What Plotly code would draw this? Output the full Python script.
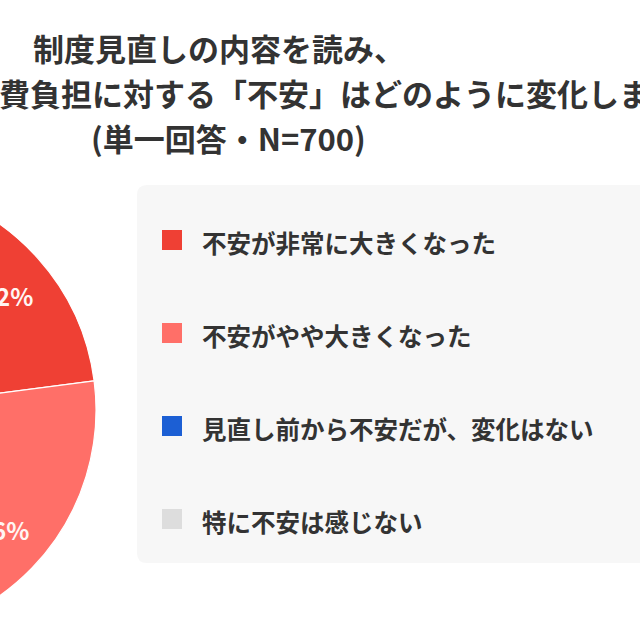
"""制度見直し後の「不安」の変化 — 円グラフ（左側が切れた構図）"""

import math

import plotly.graph_objects as go

# ── データ ────────────────────────────────────────────────
labels = [
    "不安が非常に大きくなった",
    "不安がやや大きくなった",
    "見直し前から不安だが、変化はない",
    "特に不安は感じない",
]
values = [19.2, 28.6, 38.4, 13.8]
colors = ["#EF4034", "#FF6F68", "#1C5FD4", "#DDDDDD"]

title_lines = [
    "制度見直しの内容を読み、",
    "医療費負担に対する「不安」はどのように変化しましたか？",
    "(単一回答・N=700)",
]

# ── キャンバス（左側 SHIFT px は画面外） ───────────────────
SHIFT = 400
W, H = 640 + SHIFT, 640
FONT = "Noto Sans CJK JP, Noto Sans, sans-serif"
TEXT = "#333333"
START_ANGLE = 13.5  # 最初のスライスの開始角（12時から時計回り）


def px(x):
    """表示座標 x(px) → paper 座標"""
    return (x + SHIFT) / W


def py(y):
    """表示座標 y(px, 上から) → paper 座標"""
    return 1 - y / H


# 円の中心・半径（表示座標）
cx, cy, r = -131, 410, 227

fig = go.Figure(go.Pie(
    labels=labels,
    values=values,
    marker=dict(colors=colors, line=dict(color="#FFFFFF", width=1.2)),
    sort=False,
    direction="clockwise",
    rotation=START_ANGLE,
    textinfo="none",
    domain=dict(x=[px(cx - r), px(cx + r)], y=[py(cy + r), py(cy - r)]),
    showlegend=False,
    hoverinfo="label+percent",
))

# ── スライス内のパーセント表示（各スライスの中央角に配置） ──
total = sum(values)
acc = START_ANGLE
for v in values:
    mid = math.radians(acc + v / total * 180)
    acc += v / total * 360
    tx = cx + 0.755 * r * math.sin(mid)
    ty = cy - 0.755 * r * math.cos(mid)
    fig.add_annotation(text=f"{v:.1f}%", x=px(tx), y=py(ty), xref="paper", yref="paper",
                       xanchor="center", yanchor="middle", showarrow=False,
                       font=dict(family=FONT, size=24, color="#FFF5F3", weight="bold"))

# ── タイトル ──────────────────────────────────────────────
title_font = dict(family=FONT, size=31, color=TEXT, weight="bold")
fig.add_annotation(text=title_lines[0], x=px(219), y=py(48), xref="paper", yref="paper",
                   xanchor="center", yanchor="middle", showarrow=False, font=title_font)
fig.add_annotation(text=title_lines[1], x=px(-65), y=py(93), xref="paper", yref="paper",
                   xanchor="left", yanchor="middle", showarrow=False, font=title_font)
fig.add_annotation(text=title_lines[2], x=px(228), y=py(137), xref="paper", yref="paper",
                   xanchor="center", yanchor="middle", showarrow=False, font=title_font)

# ── 凡例（背景ボックス＋四角＋ラベル） ─────────────────────
bx0, by0, bx1, by1, rad = 137, 185, 720, 563, 10
path = (
    f"M {px(bx0 + rad)},{py(by0)} L {px(bx1)},{py(by0)} L {px(bx1)},{py(by1)} "
    f"L {px(bx0 + rad)},{py(by1)} Q {px(bx0)},{py(by1)} {px(bx0)},{py(by1 - rad)} "
    f"L {px(bx0)},{py(by0 + rad)} Q {px(bx0)},{py(by0)} {px(bx0 + rad)},{py(by0)} Z"
)
fig.add_shape(type="path", path=path, xref="paper", yref="paper",
              fillcolor="#F7F7F7", line=dict(width=0), layer="below")

row_y = [240, 333, 426, 519]
for lab, col, yy in zip(labels, colors, row_y):
    fig.add_shape(type="rect", xref="paper", yref="paper",
                  x0=px(162), x1=px(182), y0=py(yy - 10), y1=py(yy + 10),
                  fillcolor=col, line=dict(width=0))
    fig.add_annotation(text=lab, x=px(200), y=py(yy + 2), xref="paper", yref="paper",
                       xanchor="left", yanchor="middle", showarrow=False,
                       font=dict(family=FONT, size=24.5, color=TEXT, weight="bold"))

fig.update_layout(
    width=W,
    height=H,
    margin=dict(l=0, r=0, t=0, b=0),
    paper_bgcolor="#FFFFFF",
    plot_bgcolor="#FFFFFF",
    font=dict(family=FONT, color=TEXT),
)

# 左側 SHIFT px を画面外へずらす
post = (
    "document.body.style.margin='0';"
    "document.body.style.overflow='hidden';"
    f"document.getElementById('{{plot_id}}').style.marginLeft='-{SHIFT}px';"
)
fig.write_html("out.html", post_script=post, config={"displayModeBar": False})
